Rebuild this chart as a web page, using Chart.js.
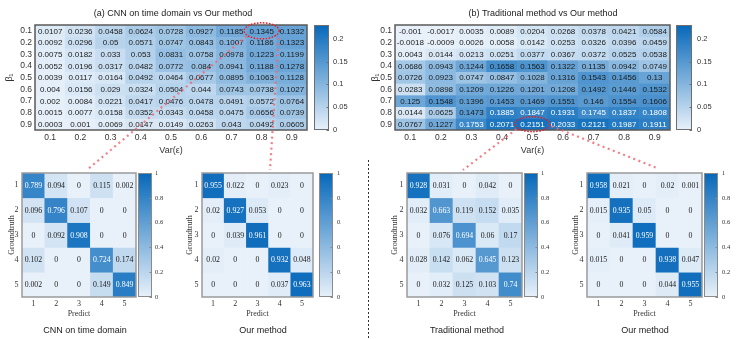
<!DOCTYPE html>
<html>
<head>
<meta charset="utf-8">
<script src="https://cdn.jsdelivr.net/npm/chart.js@4.4.1/dist/chart.umd.min.js"></script>
<style>
  body { margin: 0; width: 747px; height: 339px; position: relative; overflow: hidden; background: #fff; }
  canvas { position: absolute; }
</style>
</head>
<body>
<canvas id="hmA" width="366" height="160" style="left:-10px;top:0"></canvas>
<canvas id="hmB" width="348" height="160" style="left:369px;top:0"></canvas>
<canvas id="cm1" width="170" height="169" style="left:0;top:170px"></canvas>
<canvas id="cm2" width="156" height="169" style="left:185px;top:170px"></canvas>
<canvas id="cm3" width="174" height="169" style="left:380px;top:170px"></canvas>
<canvas id="cm4" width="204" height="169" style="left:543px;top:170px"></canvas>
<canvas id="overlay" width="747" height="339" style="left:0;top:0;pointer-events:none"></canvas>
<script>
// axis labels
const varLabels = ['0.1', '0.2', '0.3', '0.4', '0.5', '0.6', '0.7', '0.8', '0.9'];
const betaLabels = ['0.1', '0.2', '0.3', '0.4', '0.5', '0.6', '0.7', '0.8', '0.9'];
const classLabels = ['1', '2', '3', '4', '5'];
const gainTicks = [0, 0.05, 0.1, 0.15, 0.2];
const gainMax = 0.23;
const probTicks = [0, 0.2, 0.4, 0.6, 0.8, 1];
const probMax = 1;

// (a) CNN on time domain vs our method, rows = beta1 0.1..0.9
const gainCnn = [
  [0.0107, 0.0236, 0.0458, 0.0624, 0.0728, 0.0927, 0.1185, 0.1345, 0.1332],
  [0.0092, 0.0296, 0.05, 0.0571, 0.0747, 0.0843, 0.1007, 0.1186, 0.1323],
  [0.0075, 0.0182, 0.033, 0.053, 0.0831, 0.0758, 0.0978, 0.1223, 0.1199],
  [0.0052, 0.0196, 0.0317, 0.0482, 0.0772, 0.084, 0.0941, 0.1188, 0.1278],
  [0.0039, 0.0117, 0.0164, 0.0492, 0.0464, 0.0677, 0.0895, 0.1063, 0.1128],
  [0.004, 0.0156, 0.029, 0.0324, 0.0504, 0.044, 0.0743, 0.0738, 0.1027],
  [0.002, 0.0084, 0.0221, 0.0417, 0.0476, 0.0478, 0.0491, 0.0572, 0.0764],
  [0.0015, 0.0077, 0.0158, 0.0352, 0.0343, 0.0458, 0.0475, 0.0656, 0.0739],
  [0.0003, 0.001, 0.0069, 0.0147, 0.0149, 0.0263, 0.043, 0.0492, 0.0605]
];

// (b) traditional method vs our method
const gainTrad = [
  [-0.001, -0.0017, 0.0035, 0.0089, 0.0204, 0.0268, 0.0378, 0.0421, 0.0584],
  [-0.0018, -0.0009, 0.0026, 0.0058, 0.0142, 0.0253, 0.0326, 0.0396, 0.0459],
  [0.0043, 0.0144, 0.0213, 0.0251, 0.0377, 0.0367, 0.0372, 0.0525, 0.0538],
  [0.0686, 0.0943, 0.1244, 0.1658, 0.1563, 0.1322, 0.1135, 0.0942, 0.0749],
  [0.0726, 0.0923, 0.0747, 0.0847, 0.1028, 0.1316, 0.1543, 0.1456, 0.13],
  [0.0283, 0.0898, 0.1209, 0.1226, 0.1201, 0.1208, 0.1492, 0.1446, 0.1532],
  [0.125, 0.1548, 0.1396, 0.1453, 0.1469, 0.1551, 0.146, 0.1554, 0.1606],
  [0.0144, 0.0625, 0.1473, 0.1885, 0.1847, 0.1931, 0.1745, 0.1837, 0.1808],
  [0.0767, 0.1227, 0.1753, 0.2071, 0.2151, 0.2033, 0.2121, 0.1987, 0.1911]
];

// confusion matrices, rows = groundtruth, cols = predict
const cmCnn = [
  [0.789, 0.094, 0, 0.115, 0.002],
  [0.096, 0.796, 0.107, 0, 0],
  [0, 0.092, 0.908, 0, 0],
  [0.102, 0, 0, 0.724, 0.174],
  [0.002, 0, 0, 0.149, 0.849]
];
const cmOursA = [
  [0.955, 0.022, 0, 0.023, 0],
  [0.02, 0.927, 0.053, 0, 0],
  [0, 0.039, 0.961, 0, 0],
  [0.02, 0, 0, 0.932, 0.048],
  [0, 0, 0, 0.037, 0.963]
];
const cmTrad = [
  [0.928, 0.031, 0, 0.042, 0],
  [0.032, 0.663, 0.119, 0.152, 0.035],
  [0, 0.076, 0.694, 0.06, 0.17],
  [0.028, 0.142, 0.062, 0.645, 0.123],
  [0, 0.032, 0.125, 0.103, 0.74]
];
const cmOursB = [
  [0.958, 0.021, 0, 0.02, 0.001],
  [0.015, 0.935, 0.05, 0, 0],
  [0, 0.041, 0.959, 0, 0],
  [0.015, 0, 0, 0.938, 0.047],
  [0, 0, 0, 0.044, 0.955]
];

Chart.defaults.font.family = '"Liberation Sans", Arial, sans-serif';
Chart.defaults.color = '#262626';
const SERIF = '"Liberation Serif", "Times New Roman", serif';

const LOW = [232, 241, 250];
const HIGH = [6, 104, 186];
function blue(t) {
  t = Math.max(0, Math.min(1, t));
  const c = LOW.map((l, k) => Math.round(l + (HIGH[k] - l) * t));
  return 'rgb(' + c.join(',') + ')';
}

// numbers inside the cells
const cellText = {
  id: 'cellText',
  afterDatasetsDraw(chart, args, o) {
    const ctx = chart.ctx;
    ctx.save();
    ctx.font = o.font;
    ctx.textAlign = 'center';
    ctx.textBaseline = 'middle';
    chart.data.datasets.forEach((ds, i) => {
      chart.getDatasetMeta(i).data.forEach((el, j) => {
        const v = ds.values[j];
        ctx.fillStyle = v > o.whiteAbove ? '#ffffff' : '#1a1a1a';
        ctx.fillText(String(v), el.x, (el.y + el.base) / 2 + 0.5);
      });
    });
    ctx.restore();
  }
};

// gradient bar next to the plot, placed on the 'cb' scale
const colorBar = {
  id: 'colorBar',
  beforeDatasetsDraw(chart, args, o) {
    const s = chart.scales.cb;
    const ctx = chart.ctx;
    const x0 = chart.chartArea.right + o.gap;
    const top = s.getPixelForValue(s.max);
    const bot = s.getPixelForValue(s.min);
    const g = ctx.createLinearGradient(0, bot, 0, top);
    g.addColorStop(0, blue(0));
    g.addColorStop(1, blue(1));
    ctx.save();
    ctx.fillStyle = g;
    ctx.fillRect(x0, top, o.width, bot - top);
    ctx.strokeStyle = o.border;
    ctx.lineWidth = 1;
    ctx.strokeRect(x0 + 0.5, top + 0.5, o.width - 1, bot - top - 1);
    ctx.beginPath();
    s.ticks.forEach(t => {
      const y = Math.round(s.getPixelForValue(t.value)) + 0.5;
      ctx.moveTo(x0 + o.width - 2.5, y);
      ctx.lineTo(x0 + o.width, y);
    });
    ctx.stroke();
    ctx.restore();
  }
};

// box round the plot area
const frame = {
  id: 'frame',
  afterDatasetsDraw(chart, args, o) {
    const a = chart.chartArea;
    const ctx = chart.ctx;
    ctx.save();
    ctx.strokeStyle = o.color;
    ctx.lineWidth = o.width;
    ctx.strokeRect(a.left, a.top, a.right - a.left, a.bottom - a.top);
    ctx.restore();
  }
};

function cellDatasets(matrix, vmax) {
  return matrix.map((row, i) => ({
    data: row.map(() => [i + 0.5, i + 1.5]),
    values: row,
    backgroundColor: row.map(v => blue(v / vmax)),
    borderWidth: 0,
    grouped: false,
    barPercentage: 1,
    categoryPercentage: 1
  }));
}

function fixWidth(w) {
  return s => { s.width = w; s.paddingTop = 0; s.paddingBottom = 0; };
}

function makeGrid(id, o) {
  return new Chart(document.getElementById(id), {
    type: 'bar',
    data: { labels: o.xLabels, datasets: cellDatasets(o.matrix, o.vmax) },
    options: {
      responsive: false,
      animation: false,
      devicePixelRatio: 1,
      events: [],
      layout: { padding: { top: o.padTop, left: 0, right: 0, bottom: 0 } },
      plugins: {
        legend: { display: false },
        tooltip: { enabled: false },
        title: o.title
          ? { display: true, text: o.title, color: '#1a1a1a', font: { size: 9, weight: 'normal' }, padding: { top: 8, bottom: 6.2 } }
          : { display: false },
        subtitle: o.subtitle
          ? { display: true, position: 'bottom', text: o.subtitle, color: '#1a1a1a', font: { size: 9, weight: 'normal' }, padding: { top: 4, bottom: 3 } }
          : { display: false },
        cellText: { font: o.cellFont, whiteAbove: o.whiteAbove },
        colorBar: { gap: o.cbGap, width: o.cbWidth, border: o.cbBorder },
        frame: { color: o.frameColor, width: o.frameWidth }
      },
      scales: {
        x: {
          grid: { display: false, drawTicks: false },
          border: { display: false },
          ticks: { font: o.tickFont, padding: o.xTickPad, autoSkip: false, maxRotation: 0, color: '#333' },
          title: { display: true, text: o.xTitle, font: o.titleFont, color: '#333', padding: { top: 0, bottom: o.xTitlePad } },
          afterFit: s => { s.height = o.bottomH; }
        },
        y: {
          type: 'linear',
          min: 0.5,
          max: o.yLabels.length + 0.5,
          reverse: true,
          grid: { display: false, drawTicks: false },
          border: { display: false },
          afterBuildTicks: s => { s.ticks = o.yLabels.map((_, i) => ({ value: i + 1 })); },
          ticks: { callback: v => o.yLabels[Math.round(v) - 1], font: o.tickFont, padding: o.yTickPad, autoSkip: false, color: '#333' },
          title: { display: true, text: o.yTitle, font: o.titleFont, color: '#333', padding: { top: o.yTitlePad, bottom: 0 } },
          afterFit: fixWidth(o.leftW)
        },
        cb: {
          type: 'linear',
          position: 'right',
          min: 0,
          max: o.vmax,
          grid: { display: false, drawTicks: false },
          border: { display: false },
          afterBuildTicks: s => { s.ticks = o.cbTicks.map(v => ({ value: v })); },
          ticks: { callback: v => String(v), font: o.cbFont, padding: o.cbPad, autoSkip: false, color: '#333' },
          afterFit: fixWidth(o.rightW)
        }
      }
    },
    plugins: [colorBar, cellText, frame]
  });
}

const heatStyle = {
  xLabels: varLabels, yLabels: betaLabels, vmax: gainMax, cbTicks: gainTicks,
  xTitle: 'Var(ε)', yTitle: 'β₁',
  padTop: 0, bottomH: 30, xTickPad: 3, xTitlePad: 3.6, yTickPad: 3,
  tickFont: { size: 8.5 }, titleFont: { size: 9 }, cbFont: { size: 7.5 },
  cellFont: '8px "Liberation Sans", Arial, sans-serif', whiteAbove: 0.17,
  cbBorder: '#6e6e6e', frameColor: '#5a5a5a', frameWidth: 1.5
};

const cmStyle = {
  xLabels: classLabels, yLabels: classLabels, vmax: probMax, cbTicks: probTicks,
  xTitle: 'Predict', yTitle: 'Groundtruth',
  padTop: 3, bottomH: 24.2, xTickPad: 2, xTitlePad: 2.4, yTickPad: 3.5,
  tickFont: { size: 8, family: SERIF }, titleFont: { size: 8, family: SERIF }, cbFont: { size: 6.5, family: SERIF },
  cellFont: '7.8px ' + SERIF, whiteAbove: 0.5, cbWidth: 14,
  cbBorder: '#8a8a8a', frameColor: '#9a9a9a', frameWidth: 1.5
};

const chartA = makeGrid('hmA', Object.assign({}, heatStyle, {
  matrix: gainCnn, title: '(a) CNN on time domain vs Our method',
  leftW: 45, rightW: 49, yTitlePad: 14.6, cbGap: 7, cbWidth: 15, cbPad: 26
}));
const chartB = makeGrid('hmB', Object.assign({}, heatStyle, {
  matrix: gainTrad, title: '(b) Traditional method vs Our method',
  leftW: 26, rightW: 47, yTitlePad: 1.6, cbGap: 6, cbWidth: 16, cbPad: 27
}));
makeGrid('cm1', Object.assign({}, cmStyle, {
  matrix: cmCnn, subtitle: 'CNN on time domain',
  leftW: 22, rightW: 34, yTitlePad: 7.2, cbGap: 2, cbPad: 19
}));
makeGrid('cm2', Object.assign({}, cmStyle, {
  matrix: cmOursA, subtitle: 'Our method',
  leftW: 17, rightW: 28, yTitlePad: 0.2, cbGap: 6, cbPad: 24
}));
makeGrid('cm3', Object.assign({}, cmStyle, {
  matrix: cmTrad, subtitle: 'Traditional method',
  leftW: 27, rightW: 32, yTitlePad: 10.2, cbGap: 2, cbPad: 19
}));
makeGrid('cm4', Object.assign({}, cmStyle, {
  matrix: cmOursB, subtitle: 'Our method',
  leftW: 44, rightW: 45, yTitlePad: 28.2, cbGap: 2, cbPad: 20
}));

// highlight of the largest gain and the links to the matrices below
function argmax(m) {
  let best = [0, 0];
  m.forEach((r, i) => r.forEach((v, j) => { if (v > m[best[0]][best[1]]) best = [i, j]; }));
  return best;
}
function cellCenter(chart, offX, offY, cell) {
  return {
    x: offX + chart.scales.x.getPixelForValue(cell[1]),
    y: offY + chart.scales.y.getPixelForValue(cell[0] + 1)
  };
}

const ov = document.getElementById('overlay').getContext('2d');
function dotted(pts, color, w, dash) {
  ov.save();
  ov.strokeStyle = color;
  ov.lineWidth = w;
  ov.setLineDash(dash);
  ov.beginPath();
  ov.moveTo(pts[0][0], pts[0][1]);
  ov.lineTo(pts[1][0], pts[1][1]);
  ov.stroke();
  ov.restore();
}
function ring(c, rx, ry) {
  ov.save();
  ov.strokeStyle = '#e0202a';
  ov.lineWidth = 1.5;
  ov.setLineDash([1.6, 1.4]);
  ov.beginPath();
  ov.ellipse(c.x, c.y, rx, ry, 0, 0, Math.PI * 2);
  ov.stroke();
  ov.restore();
}

const pink = 'rgba(240,105,115,0.85)';
const ca = cellCenter(chartA, -10, 0, argmax(gainCnn));
const cb = cellCenter(chartB, 369, 0, argmax(gainTrad));
dotted([[ca.x - 15, ca.y + 5.5], [88, 169]], pink, 2.2, [2, 3.5]);
dotted([[ca.x + 17, ca.y + 7], [270, 170]], pink, 2.2, [2, 3.5]);
dotted([[cb.x - 16, cb.y + 5], [463, 170]], pink, 2.2, [2, 3.5]);
dotted([[cb.x + 19, cb.y + 2], [657, 168]], pink, 2.2, [2, 3.5]);
ring(ca, 17.5, 8);
ring(cb, 17.5, 7.5);
dotted([[368.5, 160], [368.5, 339]], '#333', 1, [2, 2]);
</script>
</body>
</html>
